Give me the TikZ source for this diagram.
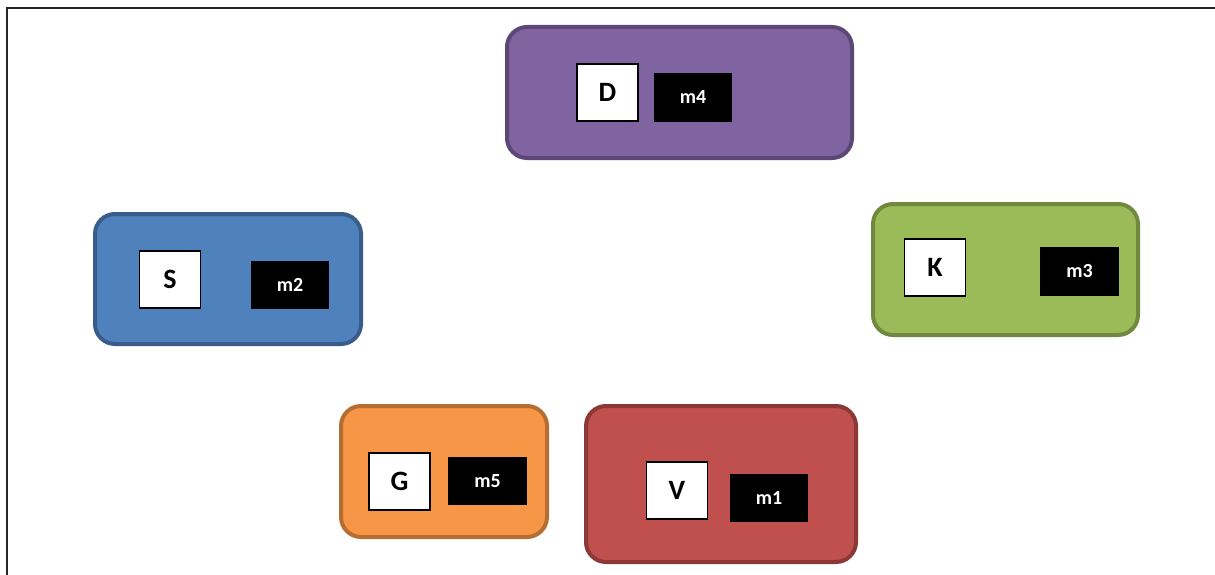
\documentclass[tikz,border=0pt]{standalone}
\usepackage{fontspec}
\setmainfont{Carlito}
\definecolor{purpF}{HTML}{8064A2}\definecolor{purpD}{HTML}{5C4776}
\definecolor{blueF}{HTML}{4F81BD}\definecolor{blueD}{HTML}{385D8A}
\definecolor{grnF}{HTML}{9BBB59}\definecolor{grnD}{HTML}{71893F}
\definecolor{orgF}{HTML}{F79646}\definecolor{orgD}{HTML}{B66D31}
\definecolor{redF}{HTML}{C0504D}\definecolor{redD}{HTML}{8C3836}
\tikzset{
  group/.style={rectangle, rounded corners=20pt, line width=4pt, inner sep=0pt},
  letterbox/.style={rectangle, draw=black, fill=white, line width=1.5pt, inner sep=0pt,
     minimum width=61pt, minimum height=57pt, font=\fontsize{28}{30}\selectfont\bfseries},
  mbox/.style={rectangle, fill=black, text=white, inner sep=0pt,
     minimum width=78pt, minimum height=48pt, font=\fontsize{20}{22}\selectfont\bfseries},
}
\begin{document}
\begin{tikzpicture}[x=1pt,y=-1pt]
\useasboundingbox (0,0) rectangle (1215,575);
\fill[white] (0,0) rectangle (1215,575);
\draw[line width=2.5pt, black!85] (7,576) -- (7,8) -- (1216,8);
% groups
\node[group, draw=purpD, fill=purpF, minimum width=345pt, minimum height=131pt] (gD) at (679.5,92.5) {};
\node[group, draw=blueD, fill=blueF, minimum width=266pt, minimum height=130pt] (gS) at (228,279) {};
\node[group, draw=grnD, fill=grnF, minimum width=265pt, minimum height=131pt] (gK) at (1005.5,269.5) {};
\node[group, draw=orgD, fill=orgF, minimum width=206pt, minimum height=131pt] (gG) at (444,471.5) {};
\node[group, draw=redD, fill=redF, minimum width=270pt, minimum height=156pt] (gV) at (721,484) {};
% letters
\node[letterbox] (D) at (607.5,92.5) {D};
\node[letterbox] (S) at (170,279.5) {S};
\node[letterbox] (K) at (935,267.5) {K};
\node[letterbox] (G) at (399.5,481.5) {G};
\node[letterbox] (V) at (677,490.5) {V};
% m boxes
\node[mbox, minimum height=49pt] (m4) at (693,97.5) {m4};
\node[mbox] (m2) at (290,285) {m2};
\node[mbox, minimum width=79pt, minimum height=49pt] (m3) at (1079.5,271.5) {m3};
\node[mbox, minimum width=79pt] (m5) at (487.5,481) {m5};
\node[mbox] (m1) at (769,498) {m1};
\end{tikzpicture}
\end{document}
